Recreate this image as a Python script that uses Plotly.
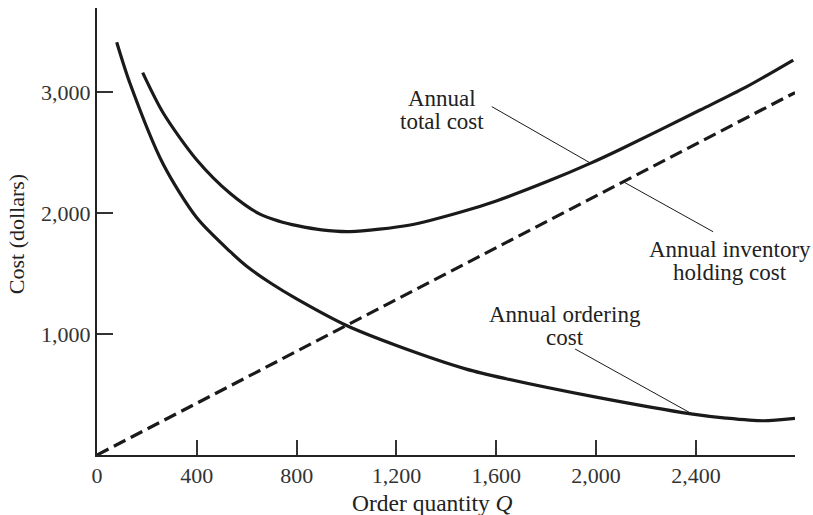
import plotly.graph_objects as go

# Order quantity Q and the three cost curves (dollars)
order_q = [79, 132, 266, 400, 534, 600, 700, 800, 1000, 1200, 1480, 1640, 2000, 2380, 2520, 2670, 2797]
ordering_cost = [3411, 3072, 2400, 1960, 1680, 1560, 1415, 1290, 1070, 905, 710, 630, 478, 340, 305, 283, 303]

total_q = [183, 266, 400, 533, 653, 733, 802, 900, 1014, 1255, 1455, 1600, 1816, 1976, 2096, 2417, 2600, 2790]
total_cost = [3160, 2824, 2438, 2163, 1990, 1930, 1895, 1860, 1846, 1901, 2006, 2100, 2270, 2410, 2525, 2851, 3040, 3264]

holding_q = [0, 2797]
holding_cost = [0, 2995]

x_ticks = [0, 400, 800, 1200, 1600, 2000, 2400]
y_ticks = [1000, 2000, 3000]

# Curve labels: (text lines, centre x, first line y, line step) and leader lines
labels = [
    (["Annual", "total cost"], 1383, 2945, 190),
    (["Annual inventory", "holding cost"], 2537, 1695, 188),
    (["Annual ordering", "cost"], 1876, 1165, 190),
]
leaders = [
    (1582, 2879, 1976, 2414),
    (2108, 2259, 2469, 1845),
    (1916, 876, 2385, 339),
]

FONT = "Liberation Serif"
INK = "#1a1a1a"
TEXT = "#222"

fig = go.Figure()
line_style = dict(color=INK, width=3.2, shape="spline", smoothing=0.8)
fig.add_trace(go.Scatter(x=order_q, y=ordering_cost, mode="lines", line=line_style))
fig.add_trace(go.Scatter(x=total_q, y=total_cost, mode="lines", line=line_style))
fig.add_trace(go.Scatter(x=holding_q, y=holding_cost, mode="lines",
                         line=dict(color=INK, width=3.2, dash="13px,6px")))

for lines, cx, y0, step in labels:
    for i, txt in enumerate(lines):
        fig.add_annotation(x=cx, y=y0 - i * step, text=txt, showarrow=False,
                           xanchor="center", yanchor="middle",
                           font=dict(family=FONT, size=23, color=TEXT))

for x0, y0, x1, y1 in leaders:
    fig.add_shape(type="line", x0=x0, y0=y0, x1=x1, y1=y1,
                  line=dict(color=INK, width=1))

# Axis titles
fig.add_annotation(xref="paper", yref="paper", x=0.481, y=-0.108,
                   text="Order quantity <i>Q</i>", showarrow=False,
                   xanchor="center", yanchor="middle",
                   font=dict(family=FONT, size=23.5, color=TEXT))
fig.add_annotation(xref="paper", yref="paper", x=-0.116, y=0.494,
                   text="Cost (dollars)", showarrow=False, textangle=-90,
                   xanchor="center", yanchor="middle",
                   font=dict(family=FONT, size=22, color=TEXT))

axis_common = dict(
    showgrid=False, zeroline=False, showline=True, linewidth=2, linecolor="#222",
    ticks="inside", tickwidth=1.5, tickcolor="#333",
    tickfont=dict(family=FONT, size=22, color="#333"),
    tickformat=",",
)

fig.update_xaxes(range=[0, 2797], tickvals=x_ticks, ticklen=15, **axis_common)
fig.update_yaxes(range=[0, 3694], tickvals=y_ticks, ticklen=16, **axis_common)

fig.update_layout(
    width=813, height=515,
    margin=dict(l=97, r=18, t=8, b=60),
    plot_bgcolor="white", paper_bgcolor="white",
    showlegend=False,
)

fig.write_html("out.html")
